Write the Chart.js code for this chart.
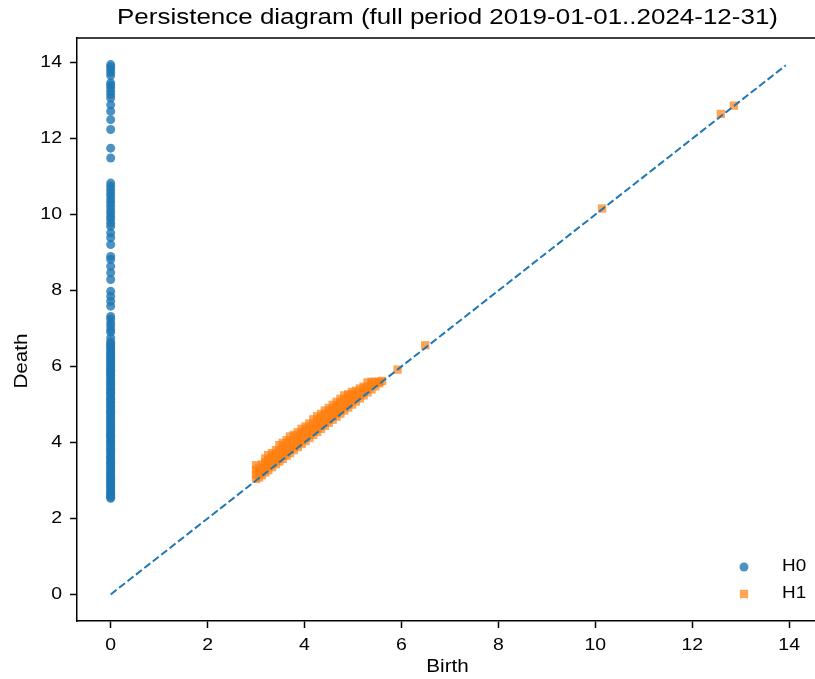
<!DOCTYPE html>
<html>
<head>
<meta charset="utf-8">
<title>Persistence diagram</title>
<script src="https://cdn.jsdelivr.net/npm/chart.js@4.4.1/dist/chart.umd.min.js"></script>
<style>
  html, body { margin: 0; padding: 0; overflow: hidden; background: #fff; }
  #graphCanvas { display: block; }
</style>
</head>
<body>
<canvas id="graphCanvas" width="830" height="679"></canvas>
<script>
// Tick labels
const xTicks = [0, 2, 4, 6, 8, 10, 12, 14];
const yTicks = [0, 2, 4, 6, 8, 10, 12, 14];

// H0 deaths (all born at 0)
const h0Death = [
    13.95, 13.89, 13.82, 13.74, 13.66, 13.47, 13.41, 13.34, 13.25, 13.16, 13.07,
    12.89, 12.72, 12.50, 12.24, 11.75, 11.49,
    10.83, 10.75, 10.66, 10.57, 10.49, 10.39, 10.31, 10.22, 10.12, 10.04, 9.95,
    9.87, 9.77, 9.69, 9.52, 9.39, 9.21, 8.90, 8.82, 8.64, 8.47, 8.29,
    7.98, 7.85, 7.72, 7.59, 7.32, 7.25, 7.15, 7.07, 6.97, 6.90, 6.75,
    6.65, 6.60, 6.56, 6.50, 6.47, 6.41, 6.36, 6.33, 6.27, 6.21, 6.18, 6.12,
    6.08, 6.02, 5.99, 5.93, 5.90, 5.84, 5.79, 5.76, 5.70, 5.65, 5.61, 5.55,
    5.52, 5.46, 5.42, 5.38, 5.32, 5.29, 5.23, 5.17, 5.14, 5.08, 5.05, 4.99,
    4.94, 4.91, 4.85, 4.80, 4.77, 4.71, 4.66, 4.62, 4.57, 4.53, 4.47, 4.43,
    4.38, 4.34, 4.28, 4.24, 4.19, 4.16, 4.10, 4.05, 4.01, 3.96, 3.92, 3.86,
    3.82, 3.77, 3.73, 3.67, 3.62, 3.59, 3.53, 3.48, 3.44, 3.40, 3.34, 3.30,
    3.25, 3.21, 3.15, 3.11, 3.06, 3.02, 2.96, 2.92, 2.87, 2.83, 2.78, 2.73,
    2.69, 2.64, 2.60, 2.56, 2.53
];

// H1 births and deaths
const h1Birth = [
    3.00, 3.00, 3.00, 3.00, 3.06, 3.06, 3.06, 3.12, 3.12, 3.12,
    3.19, 3.19, 3.19, 3.19, 3.25, 3.25, 3.25, 3.25, 3.33, 3.33, 3.33, 3.33,
    3.41, 3.41, 3.41, 3.41, 3.48, 3.48, 3.48, 3.48, 3.55, 3.55, 3.55, 3.55,
    3.63, 3.63, 3.63, 3.63, 3.70, 3.70, 3.70, 3.70, 3.78, 3.78, 3.78, 3.78,
    3.86, 3.86, 3.86, 3.86, 3.94, 3.94, 3.94, 3.94, 4.02, 4.02, 4.02, 4.02,
    4.10, 4.10, 4.10, 4.10, 4.18, 4.18, 4.18, 4.18, 4.26, 4.26, 4.26, 4.26,
    4.34, 4.34, 4.34, 4.34, 4.42, 4.42, 4.42, 4.42, 4.50, 4.50, 4.50, 4.50,
    4.58, 4.58, 4.58, 4.58, 4.66, 4.66, 4.66, 4.66, 4.74, 4.74, 4.74, 4.74,
    4.82, 4.82, 4.82, 4.82, 4.90, 4.90, 4.90, 4.90, 4.98, 4.98, 4.98, 4.98,
    5.06, 5.06, 5.06, 5.14, 5.14, 5.14, 5.22, 5.22, 5.22, 5.30, 5.30, 5.30,
    5.38, 5.38, 5.38, 5.46, 5.46, 5.54, 5.54, 5.60,
    5.92, 6.49, 10.14, 12.59, 12.86
];
const h1Death = [
    3.04, 3.15, 3.27, 3.40, 3.08, 3.20, 3.33, 3.14, 3.26, 3.42,
    3.21, 3.33, 3.47, 3.58, 3.27, 3.39, 3.53, 3.67, 3.35, 3.47, 3.60, 3.72,
    3.43, 3.55, 3.68, 3.80, 3.50, 3.62, 3.76, 3.93, 3.57, 3.69, 3.83, 3.99,
    3.65, 3.77, 3.91, 4.06, 3.72, 3.84, 3.98, 4.16, 3.80, 3.92, 4.06, 4.20,
    3.88, 4.00, 4.14, 4.27, 3.96, 4.08, 4.22, 4.36, 4.04, 4.16, 4.30, 4.42,
    4.12, 4.24, 4.38, 4.50, 4.20, 4.32, 4.46, 4.61, 4.28, 4.40, 4.54, 4.69,
    4.36, 4.48, 4.62, 4.75, 4.44, 4.56, 4.70, 4.84, 4.52, 4.64, 4.78, 4.91,
    4.60, 4.72, 4.86, 4.99, 4.68, 4.80, 4.94, 5.07, 4.76, 4.88, 5.02, 5.15,
    4.84, 4.96, 5.10, 5.24, 4.92, 5.04, 5.18, 5.27, 5.00, 5.12, 5.25, 5.33,
    5.08, 5.20, 5.36, 5.16, 5.28, 5.42, 5.24, 5.36, 5.47, 5.32, 5.44, 5.58,
    5.40, 5.52, 5.60, 5.48, 5.59, 5.56, 5.60, 5.62,
    5.92, 6.56, 10.16, 12.65, 12.87
];

// Diagonal reference line endpoints
const diagonal = [0, 13.93];

const blue = "rgba(31, 119, 180, 0.8)";
const orange = "rgba(255, 127, 14, 0.7)";
const FONT = "'Liberation Sans', Arial, sans-serif";
const TEXT_STRETCH = 1.18; // glyphs in the picture are wider than Arial

Chart.defaults.font.family = FONT;
Chart.defaults.color = "#000";

// Widen every text draw horizontally, anchored at the draw point
function stretchText(ctx, factor) {
    const fill = ctx.fillText;
    ctx.fillText = function (text, x, y, maxWidth) {
        this.save();
        this.translate(x, y);
        this.scale(factor, 1);
        if (maxWidth === undefined) {
            fill.call(this, text, 0, 0);
        } else {
            fill.call(this, text, 0, 0, maxWidth / factor);
        }
        this.restore();
    };
}

// Top spine like matplotlib's box (right spine falls just outside the picture)
const spinePlugin = {
    id: "spines",
    afterDraw(chart) {
        const { ctx, chartArea } = chart;
        ctx.save();
        ctx.strokeStyle = "#000";
        ctx.lineWidth = 1.5;
        ctx.beginPath();
        ctx.moveTo(chartArea.left, chartArea.top);
        ctx.lineTo(chart.width, chartArea.top);
        ctx.stroke();
        ctx.restore();
    }
};

// Y label sits a bit below the middle of the axis in the picture
const yLabelPlugin = {
    id: "yLabel",
    afterDraw(chart) {
        const { ctx } = chart;
        ctx.save();
        ctx.translate(22, 361);
        ctx.rotate(-Math.PI / 2);
        ctx.fillStyle = "#000";
        ctx.font = "17.5px " + FONT;
        ctx.textAlign = "center";
        ctx.textBaseline = "middle";
        ctx.fillText("Death", 0, 0);
        ctx.restore();
    }
};

// Legend in the lower right corner, no frame
const legendPlugin = {
    id: "cornerLegend",
    afterDraw(chart) {
        const { ctx, chartArea } = chart;
        const mx = chartArea.right - 74;
        const tx = chartArea.right - 36;
        const y0 = chartArea.bottom - 54;
        const y1 = chartArea.bottom - 27;
        ctx.save();
        ctx.fillStyle = blue;
        ctx.beginPath();
        ctx.arc(mx, y0, 4.5, 0, Math.PI * 2);
        ctx.fill();
        ctx.fillStyle = orange;
        ctx.fillRect(mx - 4.2, y1 - 4.2, 8.4, 8.4);
        ctx.fillStyle = "#000";
        ctx.font = "16px " + FONT;
        ctx.textBaseline = "middle";
        ctx.textAlign = "left";
        ctx.fillText("H0", tx, y0);
        ctx.fillText("H1", tx, y1);
        ctx.restore();
    }
};

function axisStyle() {
    return {
        type: "linear",
        grid: {
            display: true,
            drawOnChartArea: false,
            drawTicks: true,
            tickLength: 7,
            tickColor: "#000",
            tickWidth: 1.5
        },
        border: { display: true, color: "#000", width: 1.5 },
        ticks: { color: "#000", font: { size: 16.5 }, autoSkip: false, maxRotation: 0 }
    };
}

const xAxis = axisStyle();
xAxis.min = -0.695;
xAxis.max = 14.595;
xAxis.ticks.padding = 7.5;
xAxis.title = { display: true, text: "Birth", color: "#000", font: { size: 17.5 }, padding: { top: 0, bottom: 1.5 } };
xAxis.afterBuildTicks = (axis) => { axis.ticks = xTicks.map(v => ({ value: v })); };
xAxis.afterFit = (scale) => { scale.height = 58; };

const yAxis = axisStyle();
yAxis.min = -0.7;
yAxis.max = 14.65;
yAxis.ticks.padding = 8;
yAxis.afterBuildTicks = (axis) => { axis.ticks = yTicks.map(v => ({ value: v })); };
yAxis.afterFit = (scale) => { scale.width = 77; };

function drawChart() {
    const ctx = document.getElementById("graphCanvas").getContext("2d");
    stretchText(ctx, TEXT_STRETCH);
    new Chart(ctx, {
        type: "scatter",
        data: {
            datasets: [
                {
                    label: "diagonal",
                    data: diagonal.map(v => ({ x: v, y: v })),
                    showLine: true,
                    borderColor: "#1f77b4",
                    borderWidth: 2,
                    borderDash: [7.5, 3.2],
                    pointRadius: 0,
                    order: 0
                },
                {
                    label: "H0",
                    data: h0Death.map(d => ({ x: 0, y: d })),
                    pointStyle: "circle",
                    pointRadius: 4.5,
                    pointBorderWidth: 0,
                    backgroundColor: blue,
                    borderColor: blue,
                    order: 2
                },
                {
                    label: "H1",
                    data: h1Birth.map((b, i) => ({ x: b, y: h1Death[i] })),
                    pointStyle: "rect",
                    pointRadius: 5.9,
                    pointBorderWidth: 0,
                    backgroundColor: orange,
                    borderColor: orange,
                    order: 1
                }
            ]
        },
        options: {
            responsive: false,
            animation: false,
            layout: { padding: { left: 0, right: 12, top: 0, bottom: 0 } },
            scales: { x: xAxis, y: yAxis },
            plugins: {
                legend: { display: false },
                tooltip: { enabled: false },
                title: {
                    display: true,
                    fullSize: false,
                    text: "Persistence diagram (full period 2019-01-01..2024-12-31)",
                    color: "#000",
                    font: { size: 22, weight: "normal" },
                    padding: { top: 5, bottom: 6.6 }
                }
            }
        },
        plugins: [spinePlugin, yLabelPlugin, legendPlugin]
    });
}

window.onload = drawChart;
</script>
</body>
</html>
